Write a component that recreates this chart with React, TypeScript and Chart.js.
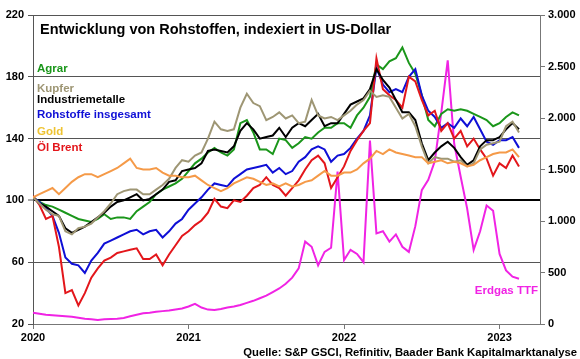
import React, { useEffect, useRef } from 'react';
import { Chart, registerables } from 'chart.js';

Chart.register(...registerables);

// Semi-monthly observation dates (decimal years)
const dates: number[] = Array.from({ length: 76 }, (_, i) => 2020 + i / 24);

const xTicks = [2020, 2021, 2022, 2023];
const leftTicks = [20, 60, 100, 140, 180, 220];
const rightTicks = [0, 500, 1000, 1500, 2000, 2500, 3000];

const agrar = [
  102, 99, 97, 96, 94, 92, 90, 88, 87, 86, 88, 91, 88, 89, 89, 88, 93, 96, 99, 104, 107, 109, 111, 114, 119,
  124, 127, 131, 134, 131, 129, 133, 150, 152, 144, 133, 133, 130, 140, 139, 134, 137, 141, 140, 144, 147, 147, 150, 150,
  147, 155, 160, 167, 188, 185, 190, 192, 199, 189, 182, 168, 152, 148, 156, 159, 158, 159, 158, 156, 154, 152, 148, 150, 154, 157, 155,
];

const kupfer = [
  102, 98, 94, 91, 90, 80, 78, 82, 83, 85, 89, 93, 98, 104, 106, 107, 107, 104, 104, 107, 110, 114, 121, 126, 125,
  129, 131, 140, 151, 146, 145, 146, 160, 169, 163, 161, 152, 154, 157, 153, 155, 150, 151, 165, 155, 153, 154, 152, 155,
  158, 162, 165, 171, 167, 168, 167, 160, 153, 156, 148, 135, 124, 128, 127, 127, 125, 126, 122, 124, 133, 136, 137, 138, 148, 151, 144,
];

const industriemetalle = [
  102, 98, 96, 93, 90, 82, 79, 81, 83, 86, 89, 92, 96, 99, 100, 102, 104, 100, 101, 104, 107, 112, 113, 119, 120,
  121, 124, 132, 133, 132, 131, 135, 145, 150, 146, 140, 141, 142, 147, 141, 147, 150, 148, 152, 156, 148, 150, 150, 156,
  162, 164, 166, 172, 185, 178, 173, 165, 157, 157, 152, 137, 126, 131, 135, 138, 134, 128, 123, 126, 135, 139, 139, 141, 146, 150, 146,
];

const rohstoffe = [
  102, 99, 95, 90, 79, 63, 59, 58, 53, 61, 66, 72, 74, 76, 78, 80, 81, 78, 80, 81, 76, 80, 85, 88, 94,
  98, 102, 107, 111, 110, 109, 114, 117, 120, 121, 122, 123, 118, 121, 117, 119, 125, 128, 133, 135, 133, 125, 129, 130,
  134, 140, 145, 155, 186, 175, 170, 172, 170, 180, 185, 168, 158, 154, 147, 150, 147, 153, 148, 154, 146, 138, 136, 139, 139, 141, 134,
];

const gold = [
  102, 104, 106, 108, 104, 108, 112, 115, 117, 117, 115, 117, 119, 121, 124, 127, 121, 120, 120, 121, 118, 116, 116, 115, 115,
  116, 113, 110, 108, 106, 108, 111, 113, 115, 114, 112, 110, 111, 109, 111, 109, 110, 112, 113, 116, 119, 116, 116, 118,
  118, 120, 124, 127, 132, 130, 133, 131, 130, 129, 128, 128, 124, 125, 126, 124, 125, 124, 122, 123, 126, 128, 130, 131, 131, 133, 128,
];

const oelBrent = [
  103, 97, 88, 90, 70, 40, 42, 32, 40, 50, 56, 61, 63, 66, 67, 68, 69, 62, 62, 65, 58, 65, 71, 77, 80,
  84, 87, 92, 101, 96, 95, 100, 99, 103, 108, 110, 115, 110, 108, 103, 108, 113, 120, 126, 129, 124, 108, 115, 122,
  132, 139, 145, 150, 192, 172, 168, 165, 160, 180, 177, 165, 155, 158, 145, 150, 140, 145, 135, 140, 133, 127, 116, 124, 121, 129, 122,
];

// Right axis
const erdgasTTF = [
  110, 100, 90, 85, 80, 75, 70, 60, 50, 45, 40, 45, 48, 50, 58, 75, 90, 105, 110, 118, 125, 130, 140, 150, 170,
  195, 160, 140, 135, 145, 160, 170, 185, 205, 225, 250, 275, 310, 345, 390, 450, 540, 800, 750, 570, 700, 740, 1480, 620,
  720, 680, 600, 1780, 880, 900, 800, 870, 750, 700, 950, 1300, 1400, 1580, 2050, 2560, 1750, 1430, 1120, 720, 900, 1150, 1100, 680, 520, 460, 440,
];

const TITLE = 'Entwicklung von Rohstoffen, indexiert in US-Dollar';
const SOURCE = 'Quelle: S&P GSCI, Refinitiv, Baader Bank Kapitalmarktanalyse';
const FONT = "'Liberation Sans', Arial, Helvetica, sans-serif";

const C = {
  agrar: '#1a961a',
  kupfer: '#9e9674',
  industrie: '#000000',
  rohstoffe: '#0f0fd6',
  goldLine: '#f59a48',
  goldLabel: '#eec332',
  brent: '#e3161b',
  ttf: '#f023e4',
};

const seriesLabels = [
  { text: 'Agrar', color: C.agrar, dy: 57 },
  { text: 'Kupfer', color: C.kupfer, dy: 77 },
  { text: 'Industriemetalle', color: C.industrie, dy: 88 },
  { text: 'Rohstoffe insgesamt', color: C.rohstoffe, dy: 103 },
  { text: 'Gold', color: C.goldLabel, dy: 120 },
  { text: 'Öl Brent', color: C.brent, dy: 136 },
];

function fmtDE(v: number): string {
  if (v >= 1000) {
    const th = Math.floor(v / 1000);
    const rest = String(v % 1000).padStart(3, '0');
    return `${th}.${rest}`;
  }
  return String(v);
}

const textPlugin = {
  id: 'textPlugin',
  afterDatasetsDraw(chart: any) {
    const { ctx, chartArea } = chart;
    ctx.save();
    ctx.textBaseline = 'alphabetic';
    ctx.textAlign = 'left';
    ctx.font = `bold 14.5px ${FONT}`;
    ctx.fillStyle = '#000';
    ctx.fillText(TITLE, chartArea.left + 7, chartArea.top + 18.5);

    ctx.font = `bold 11.5px ${FONT}`;
    for (const l of seriesLabels) {
      ctx.fillStyle = l.color;
      ctx.fillText(l.text, chartArea.left + 4, chartArea.top + l.dy);
    }

    ctx.textAlign = 'right';
    ctx.fillStyle = C.ttf;
    ctx.fillText('Erdgas TTF', chartArea.right - 2, chartArea.bottom - 30);

    ctx.fillStyle = '#000';
    ctx.font = `bold 11.3px ${FONT}`;
    ctx.fillText(SOURCE, chart.width - 3, chart.height - 3.5);
    ctx.restore();
  },
};

const tickFont = { family: FONT, size: 11, weight: 'bold' as const };

export default function App() {
  const ref = useRef<HTMLCanvasElement | null>(null);

  useEffect(() => {
    if (!ref.current) return;
    const mk = (vals: number[]) => dates.map((x, i) => ({ x, y: vals[i] }));
    const ds = (label: string, vals: number[], color: string, axis = 'y') => ({
      label,
      data: mk(vals),
      borderColor: color,
      backgroundColor: color,
      borderWidth: 2,
      pointRadius: 0,
      tension: 0,
      yAxisID: axis,
    });

    const chart = new Chart(ref.current, {
      type: 'line',
      data: {
        datasets: [
          ds('Gold', gold, C.goldLine),
          ds('Kupfer', kupfer, C.kupfer),
          ds('Industriemetalle', industriemetalle, C.industrie),
          ds('Öl Brent', oelBrent, C.brent),
          ds('Rohstoffe insgesamt', rohstoffe, C.rohstoffe),
          ds('Agrar', agrar, C.agrar),
          ds('Erdgas TTF', erdgasTTF, C.ttf, 'y2'),
        ] as any,
      },
      options: {
        responsive: false,
        animation: false,
        events: [],
        layout: { padding: { top: 15, left: 0, right: 0, bottom: 0 } },
        plugins: {
          legend: { display: false },
          tooltip: { enabled: false },
          title: { display: false },
        },
        scales: {
          x: {
            type: 'linear',
            min: 2020,
            max: 2023.26,
            afterBuildTicks: (s: any) => {
              s.ticks = xTicks.map((v) => ({ value: v }));
            },
            afterFit: (s: any) => {
              s.height = 35;
            },
            ticks: {
              callback: (v: any) => String(v),
              font: tickFont,
              color: '#000',
              padding: 2,
              maxRotation: 0,
              autoSkip: false,
            },
            grid: { drawOnChartArea: false, tickLength: 5, color: '#777' },
            border: { color: '#777' },
          },
          y: {
            type: 'linear',
            position: 'left',
            min: 20,
            max: 220,
            afterBuildTicks: (s: any) => {
              s.ticks = leftTicks.map((v) => ({ value: v }));
            },
            afterFit: (s: any) => {
              s.width = 33;
            },
            ticks: { font: tickFont, color: '#000', padding: 4 },
            grid: {
              color: (c: any) => (c.tick && c.tick.value === 100 ? '#000' : '#555'),
              lineWidth: (c: any) => (c.tick && c.tick.value === 100 ? 2 : 1),
              tickColor: '#555',
              tickWidth: 1,
              tickLength: 5,
            },
            border: { color: '#555' },
          },
          y2: {
            type: 'linear',
            position: 'right',
            min: 0,
            max: 3000,
            afterBuildTicks: (s: any) => {
              s.ticks = rightTicks.map((v) => ({ value: v }));
            },
            afterFit: (s: any) => {
              s.width = 40;
            },
            ticks: {
              font: tickFont,
              color: '#000',
              padding: 3,
              callback: (v: any) => fmtDE(Number(v)),
            },
            grid: { drawOnChartArea: false, tickLength: 5, color: '#777' },
            border: { color: '#777' },
          },
        },
      } as any,
      plugins: [textPlugin],
    });
    return () => chart.destroy();
  }, []);

  return (
    <div style={{ position: 'fixed', left: 0, top: 0, width: 580, height: 359, background: '#fff' }}>
      <canvas ref={ref} width={580} height={359} style={{ display: 'block' }} />
    </div>
  );
}
